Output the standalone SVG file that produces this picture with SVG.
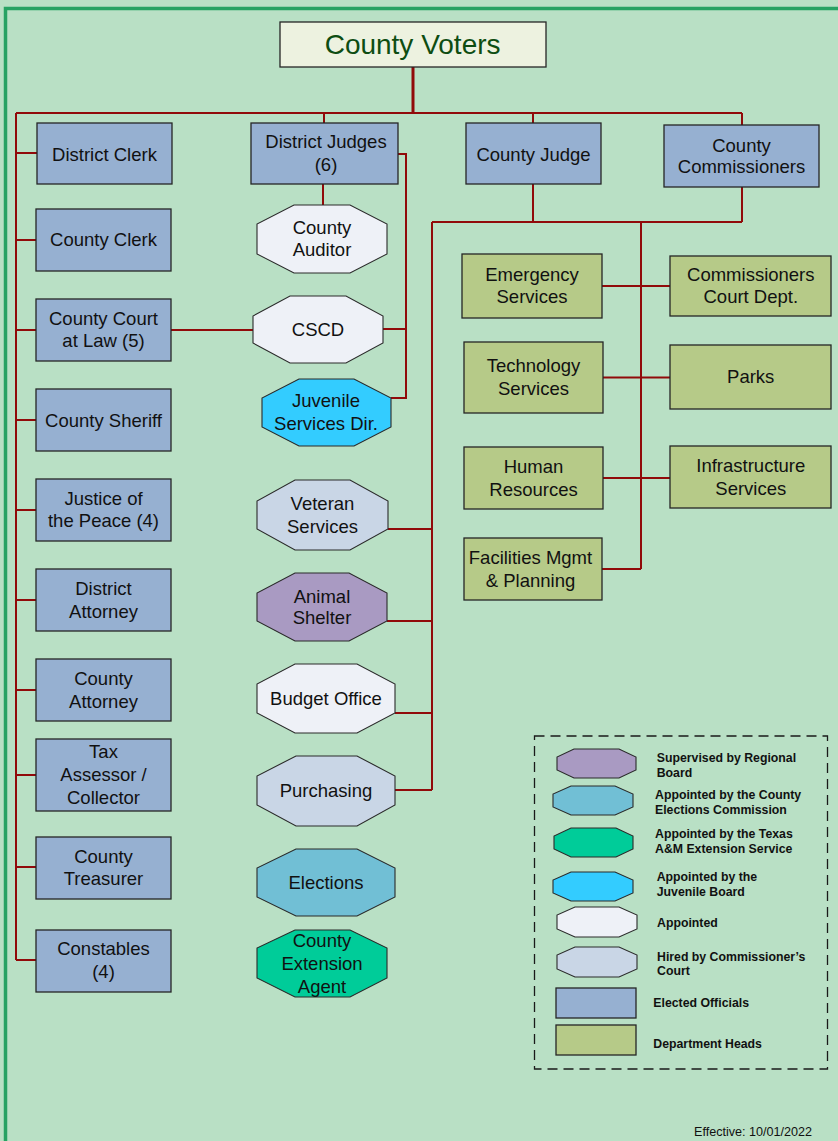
<svg xmlns="http://www.w3.org/2000/svg" width="838" height="1141" viewBox="0 0 838 1141">
<style>
text{font-family:"Liberation Sans",Arial,sans-serif;fill:#111;}
.t{font-size:18.5px;text-anchor:middle;}
.lg{font-size:12.3px;font-weight:bold;}
.el{fill:#96b0d1;stroke:#262626;stroke-width:1.3;}
.dh{fill:#b6ca88;stroke:#262626;stroke-width:1.3;}
.oc{stroke:#2a2a2a;stroke-width:1.1;}
.ap{fill:#eef1f7;}
.hi{fill:#c9d6e6;}
.pu{fill:#a99ac2;}
.ec{fill:#71bfd5;}
.ju{fill:#33ccff;}
.ex{fill:#00cc99;}
.cn{fill:none;stroke:#910a0a;stroke-width:2;}
</style>
<rect x="0" y="0" width="838" height="1141" fill="#b9e0c5"/>
<path d="M5.5 1141 V8.5 H838" fill="none" stroke="#27a263" stroke-width="3.5"/>

<g id="connectors" class="cn">
<path d="M413 67 V113" stroke-width="3"/>
<path d="M16 113 H742"/>
<path d="M16 113 V960"/>
<path d="M16 153 H37 M16 240 H36 M16 330 H36 M16 420 H36 M16 510 H36 M16 600 H36 M16 690 H36 M16 775 H36 M16 867 H36 M16 960 H36"/>
<path d="M324 113 V123 M533 113 V123 M742 113 V125"/>
<path d="M323 184 V205"/>
<path d="M398 154 H406 V398 H391"/>
<path d="M383 329 H406"/>
<path d="M171 330 H253"/>
<path d="M533 184 V222 M742 187 V222 M432 222 H742"/>
<path d="M432 222 V790"/>
<path d="M388 529 H432 M387 621 H432 M395 713 H432 M395 790 H432"/>
<path d="M641 222 V569"/>
<path d="M602 286 H670 M603 377.5 H670 M603 478 H670 M602 569 H641"/>
</g>

<g id="county-voters">
<rect x="280" y="22" width="266" height="45" fill="#edf2e0" stroke="#262626" stroke-width="1.3"/>
<text x="412.6" y="53.5" style="font-size:28px;text-anchor:middle;fill:#0d4d12">County Voters</text>
</g>

<g id="district-clerk"><rect class="el" x="37" y="123" width="135" height="61"/><text class="t" x="104.5" y="160.5">District Clerk</text></g>
<g id="district-judges"><rect class="el" x="251" y="123" width="147" height="61"/><text class="t" x="326" y="148">District Judges</text><text class="t" x="326" y="170.5">(6)</text></g>
<g id="county-judge"><rect class="el" x="466" y="123" width="135" height="61"/><text class="t" x="533.5" y="160.5">County Judge</text></g>
<g id="county-commissioners"><rect class="el" x="664" y="125" width="155" height="62"/><text class="t" x="741.5" y="151.5">County</text><text class="t" x="741.5" y="173">Commissioners</text></g>

<g id="county-clerk"><rect class="el" x="36" y="209" width="135" height="62"/><text class="t" x="103.5" y="246">County Clerk</text></g>
<g id="county-court-at-law"><rect class="el" x="36" y="299" width="135" height="62"/><text class="t" x="103.5" y="324.5">County Court</text><text class="t" x="103.5" y="347">at Law (5)</text></g>
<g id="county-sheriff"><rect class="el" x="36" y="389" width="135" height="62"/><text class="t" x="103.5" y="426.5">County Sheriff</text></g>
<g id="justice-of-the-peace"><rect class="el" x="36" y="479" width="135" height="62"/><text class="t" x="103.5" y="505">Justice of</text><text class="t" x="103.5" y="527">the Peace (4)</text></g>
<g id="district-attorney"><rect class="el" x="36" y="569" width="135" height="62"/><text class="t" x="103.5" y="595">District</text><text class="t" x="103.5" y="617.5">Attorney</text></g>
<g id="county-attorney"><rect class="el" x="36" y="659" width="135" height="62"/><text class="t" x="103.5" y="685">County</text><text class="t" x="103.5" y="707.5">Attorney</text></g>
<g id="tax-assessor"><rect class="el" x="36" y="739" width="135" height="72"/><text class="t" x="103.5" y="758">Tax</text><text class="t" x="103.5" y="781">Assessor /</text><text class="t" x="103.5" y="804">Collector</text></g>
<g id="county-treasurer"><rect class="el" x="36" y="837" width="135" height="62"/><text class="t" x="103.5" y="862.5">County</text><text class="t" x="103.5" y="884.5">Treasurer</text></g>
<g id="constables"><rect class="el" x="36" y="930" width="135" height="62"/><text class="t" x="103.5" y="955">Constables</text><text class="t" x="103.5" y="977.5">(4)</text></g>

<g id="county-auditor"><polygon class="oc ap" points="294,205 350,205 387,224 387,254 350,273 294,273 257,254 257,224"/><text class="t" x="322" y="233.5">County</text><text class="t" x="322" y="256">Auditor</text></g>
<g id="cscd"><polygon class="oc ap" points="290,296 346,296 383,316 383,343 346,363 290,363 253,343 253,316"/><text class="t" x="318" y="336">CSCD</text></g>
<g id="juvenile-services"><polygon class="oc ju" points="299,379 354,379 391,398 391,427 354,446 299,446 262,427 262,398"/><text class="t" x="326" y="407">Juvenile</text><text class="t" x="326" y="429.5">Services Dir.</text></g>
<g id="veteran-services"><polygon class="oc hi" points="295,480 350,480 388,501 388,529 350,550 295,550 257,529 257,501"/><text class="t" x="322.5" y="510">Veteran</text><text class="t" x="322.5" y="532.5">Services</text></g>
<g id="animal-shelter"><polygon class="oc pu" points="295,573 349,573 387,593 387,621 349,641 295,641 257,621 257,593"/><text class="t" x="322" y="602.5">Animal</text><text class="t" x="322" y="624">Shelter</text></g>
<g id="budget-office"><polygon class="oc ap" points="295,664 357,664 395,684 395,713 357,733 295,733 257,713 257,684"/><text class="t" x="326" y="704.5">Budget Office</text></g>
<g id="purchasing"><polygon class="oc hi" points="296,756 357,756 395,776 395,805 357,826 296,826 257,805 257,776"/><text class="t" x="326" y="797">Purchasing</text></g>
<g id="elections"><polygon class="oc ec" points="296,849 357,849 395,868 395,897 357,916 296,916 257,897 257,868"/><text class="t" x="326" y="888.5">Elections</text></g>
<g id="county-extension-agent"><polygon class="oc ex" points="295,930 350,930 387,948 387,978 350,997 295,997 257,978 257,948"/><text class="t" x="322" y="947">County</text><text class="t" x="322" y="970">Extension</text><text class="t" x="322" y="993">Agent</text></g>

<g id="emergency-services"><rect class="dh" x="462" y="254" width="140" height="64"/><text class="t" x="532" y="280.5">Emergency</text><text class="t" x="532" y="302.5">Services</text></g>
<g id="commissioners-court-dept"><rect class="dh" x="670" y="256" width="161" height="60"/><text class="t" x="750.8" y="280.5">Commissioners</text><text class="t" x="750.8" y="302.5">Court Dept.</text></g>
<g id="technology-services"><rect class="dh" x="464" y="342" width="139" height="71"/><text class="t" x="533.5" y="372">Technology</text><text class="t" x="533.5" y="394.5">Services</text></g>
<g id="parks"><rect class="dh" x="670" y="345" width="161" height="64"/><text class="t" x="750.7" y="382.5">Parks</text></g>
<g id="human-resources"><rect class="dh" x="464" y="447" width="139" height="62"/><text class="t" x="533.5" y="473">Human</text><text class="t" x="533.5" y="495.5">Resources</text></g>
<g id="infrastructure-services"><rect class="dh" x="670" y="446" width="161" height="62"/><text class="t" x="750.8" y="472">Infrastructure</text><text class="t" x="750.8" y="494.5">Services</text></g>
<g id="facilities-mgmt"><rect class="dh" x="464" y="538" width="138" height="62"/><text class="t" x="530.5" y="564">Facilities Mgmt</text><text class="t" x="530.5" y="586.5">&amp; Planning</text></g>

<g id="legend">
<rect x="534.5" y="736" width="293" height="333" fill="none" stroke="#1a1a1a" stroke-width="1.3" stroke-dasharray="10 6"/>
<polygon class="oc pu" points="574,749 619,749 636,757 636,770 619,778 574,778 557,770 557,757"/>
<text class="lg" x="656.7" y="761.5">Supervised by Regional</text><text class="lg" x="656.7" y="777">Board</text>
<polygon class="oc ec" points="571,786 615,786 633,794 633,807 615,815 571,815 553,807 553,794"/>
<text class="lg" x="655" y="799">Appointed by the County</text><text class="lg" x="655" y="814">Elections Commission</text>
<polygon class="oc ex" points="571,828 616,828 633,836 633,849 616,857 571,857 554,849 554,836"/>
<text class="lg" x="655" y="837.5">Appointed by the Texas</text><text class="lg" x="655" y="853">A&amp;M Extension Service</text>
<polygon class="oc ju" points="571,872 615,872 633,880 633,893 615,901 571,901 553,893 553,880"/>
<text class="lg" x="656.7" y="881">Appointed by the</text><text class="lg" x="656.7" y="895.5">Juvenile Board</text>
<polygon class="oc ap" points="575,907 619,907 637,915 637,929 619,937 575,937 557,929 557,915"/>
<text class="lg" x="657" y="927">Appointed</text>
<polygon class="oc hi" points="575,947 619,947 637,955 637,969 619,977 575,977 557,969 557,955"/>
<text class="lg" x="657" y="960.5">Hired by Commissioner’s</text><text class="lg" x="657" y="975">Court</text>
<rect class="el" x="556" y="988" width="80" height="30"/>
<text class="lg" x="653.3" y="1007">Elected Officials</text>
<rect class="dh" x="556" y="1025" width="80" height="30"/>
<text class="lg" x="653.3" y="1048">Department Heads</text>
</g>

<text x="694" y="1136" style="font-size:12.6px">Effective: 10/01/2022</text>
</svg>
